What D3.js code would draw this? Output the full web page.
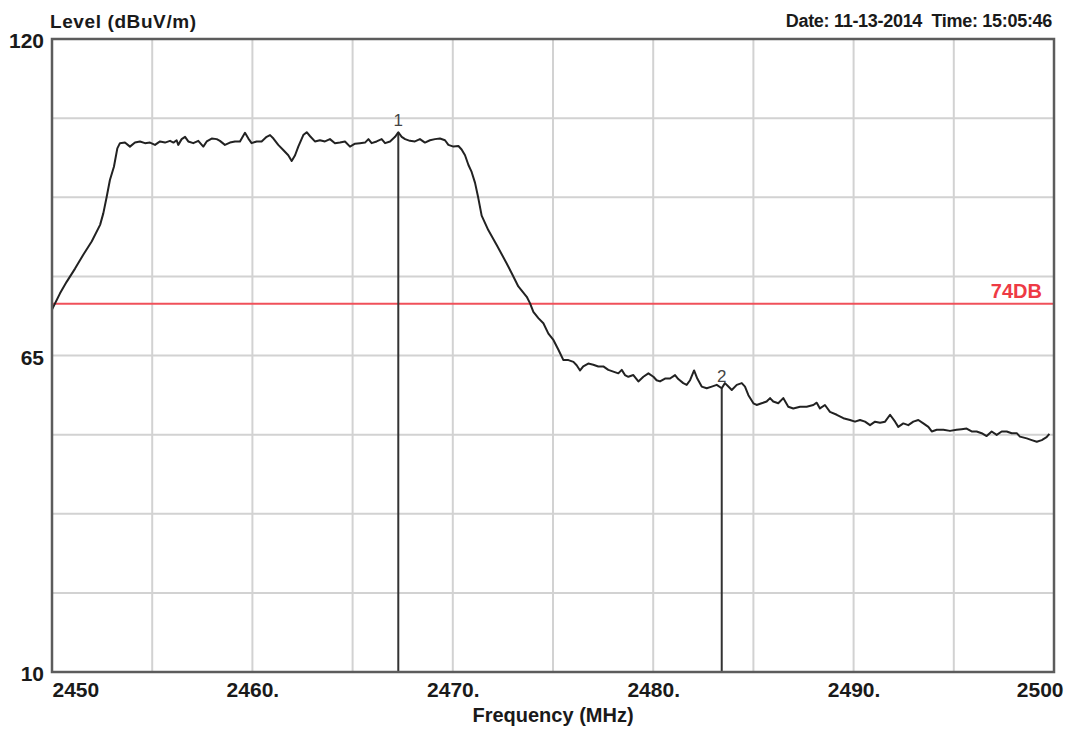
<!DOCTYPE html>
<html>
<head>
<meta charset="utf-8">
<script src="https://cdn.jsdelivr.net/npm/d3@7"></script>
<style>
  html, body { margin: 0; padding: 0; background: #fff; }
  svg { display: block; font-family: "Liberation Sans", Arial, sans-serif; }
</style>
</head>
<body>
<div id="chart"></div>
<script>
// frequency in MHz, level in dBuV/m
const trace = [
  [2450.00,73.0],[2450.40,75.8],[2450.73,77.8],[2451.15,80.1],[2451.56,82.5],[2451.98,84.8],
  [2452.40,87.7],[2452.56,89.7],[2452.73,92.6],[2452.89,95.5],[2453.09,97.8],[2453.26,101.0],
  [2453.39,101.9],[2453.64,102.0],[2453.89,101.3],[2454.14,102.0],[2454.39,102.2],[2454.64,101.9],
  [2454.89,102.0],[2455.14,101.6],[2455.39,102.2],[2455.64,102.0],[2455.89,102.3],[2456.06,102.0],
  [2456.22,102.4],[2456.30,101.6],[2456.47,102.6],[2456.64,103.0],[2456.80,102.2],[2457.05,101.9],
  [2457.30,102.3],[2457.55,101.3],[2457.72,102.2],[2457.97,102.7],[2458.22,102.6],[2458.38,102.3],
  [2458.63,101.6],[2458.88,102.0],[2459.13,102.2],[2459.38,102.2],[2459.63,103.7],[2459.80,102.7],
  [2459.96,101.9],[2460.21,102.2],[2460.46,102.2],[2460.71,103.0],[2460.88,103.3],[2461.05,102.7],
  [2461.29,101.6],[2461.54,100.7],[2461.79,99.8],[2461.96,98.8],[2462.13,99.8],[2462.29,101.3],
  [2462.54,103.3],[2462.71,103.8],[2462.88,103.1],[2463.12,102.2],[2463.37,102.4],[2463.62,102.2],
  [2463.87,102.6],[2464.12,101.9],[2464.37,102.0],[2464.62,102.2],[2464.87,101.3],[2465.12,101.8],
  [2465.37,101.9],[2465.62,102.0],[2465.79,102.6],[2465.95,101.9],[2466.20,102.2],[2466.45,102.6],
  [2466.62,101.9],[2466.87,102.2],[2467.12,103.0],[2467.28,103.8],[2467.45,103.0],[2467.62,102.6],
  [2467.86,102.3],[2468.11,102.2],[2468.36,102.6],[2468.61,102.0],[2468.86,102.4],[2469.11,102.6],
  [2469.36,102.7],[2469.61,102.4],[2469.78,101.6],[2470.03,101.3],[2470.28,101.4],[2470.44,100.8],
  [2470.61,99.8],[2470.78,98.1],[2470.94,96.9],[2471.11,95.0],[2471.27,92.4],[2471.44,89.3],
  [2471.77,86.8],[2472.19,84.2],[2472.69,81.0],[2472.94,79.3],[2473.27,77.0],[2473.69,75.2],
  [2473.85,74.1],[2474.02,72.6],[2474.27,71.5],[2474.52,70.6],[2474.77,68.8],[2475.02,67.7],
  [2475.27,66.0],[2475.52,64.2],[2475.77,64.2],[2476.02,63.9],[2476.18,63.3],[2476.35,62.4],
  [2476.51,63.1],[2476.76,63.6],[2477.01,63.4],[2477.26,63.1],[2477.51,63.1],[2477.76,62.5],
  [2478.01,62.2],[2478.26,61.9],[2478.43,62.5],[2478.59,61.6],[2478.76,61.3],[2479.01,61.6],
  [2479.26,60.5],[2479.51,61.3],[2479.76,61.9],[2480.01,61.3],[2480.17,60.7],[2480.34,60.5],
  [2480.59,61.0],[2480.84,61.0],[2481.09,61.6],[2481.25,60.9],[2481.50,60.2],[2481.67,59.9],
  [2481.84,60.7],[2482.04,62.4],[2482.20,61.0],[2482.42,59.6],[2482.67,59.3],[2482.92,59.6],
  [2483.17,59.9],[2483.42,59.3],[2483.58,60.2],[2483.75,59.6],[2483.92,59.0],[2484.17,59.9],
  [2484.42,60.2],[2484.58,59.6],[2484.75,58.1],[2485.00,56.7],[2485.16,56.4],[2485.41,56.7],
  [2485.66,57.0],[2485.83,57.6],[2485.99,57.0],[2486.24,56.7],[2486.49,57.6],[2486.74,56.1],
  [2486.99,55.8],[2487.33,56.1],[2487.66,56.1],[2487.99,56.4],[2488.16,56.8],[2488.32,55.8],
  [2488.57,56.4],[2488.82,55.2],[2489.16,54.7],[2489.49,54.1],[2489.82,53.8],[2490.07,53.5],
  [2490.32,53.8],[2490.57,53.5],[2490.82,52.9],[2491.07,53.5],[2491.32,53.3],[2491.57,53.5],
  [2491.82,54.7],[2492.07,53.5],[2492.23,52.6],[2492.48,53.2],[2492.73,52.9],[2492.98,53.5],
  [2493.23,53.8],[2493.48,53.2],[2493.73,52.6],[2493.90,51.8],[2494.15,52.1],[2494.48,52.1],
  [2494.81,51.9],[2495.14,52.1],[2495.39,52.2],[2495.64,52.3],[2495.89,51.8],[2496.14,51.8],
  [2496.39,51.5],[2496.64,51.0],[2496.89,51.8],[2497.14,51.2],[2497.39,51.8],[2497.64,51.8],
  [2497.89,51.5],[2498.14,51.5],[2498.30,50.9],[2498.64,50.6],[2498.89,50.3],[2499.14,50.0],
  [2499.39,50.3],[2499.63,50.8],[2499.77,51.4]
];

const markers = [
  { label: "1", freq: 2467.28, level: 103.8 },
  { label: "2", freq: 2483.42, level: 59.3 }
];

const limitLevel = 74;
const limitLabel = "74DB";

const xDomain = [2450, 2500];
const yDomain = [10, 120];
const xTickLabels = [2450, 2460, 2470, 2480, 2490, 2500];
const yTickLabels = [120, 65, 10];

const width = 1073;
const height = 731;
const margin = { top: 39, right: 19, bottom: 59, left: 52 };
const chartWidth = width - margin.left - margin.right;
const chartHeight = height - margin.top - margin.bottom;

const svg = d3.select("#chart")
  .append("svg")
  .attr("width", width)
  .attr("height", height);

svg.append("rect").attr("width", width).attr("height", height).attr("fill", "#fff");

const chart = svg.append("g")
  .attr("transform", `translate(${margin.left}, ${margin.top})`);

const xScale = d3.scaleLinear().domain(xDomain).range([0, chartWidth]);
const yScale = d3.scaleLinear().domain(yDomain).range([chartHeight, 0]);

// grid: every 5 MHz, 8 level divisions
const xGrid = d3.range(xDomain[0] + 5, xDomain[1], 5);
const yStep = (yDomain[1] - yDomain[0]) / 8;
const yGrid = d3.range(1, 8).map(i => yDomain[0] + i * yStep);

chart.append("g")
  .selectAll("line.vgrid")
  .data(xGrid)
  .enter()
  .append("line")
  .attr("x1", d => xScale(d))
  .attr("x2", d => xScale(d))
  .attr("y1", 0)
  .attr("y2", chartHeight)
  .attr("stroke", "#d2d2d2")
  .attr("stroke-width", 2);

chart.append("g")
  .selectAll("line.hgrid")
  .data(yGrid)
  .enter()
  .append("line")
  .attr("x1", 0)
  .attr("x2", chartWidth)
  .attr("y1", d => yScale(d))
  .attr("y2", d => yScale(d))
  .attr("stroke", "#d2d2d2")
  .attr("stroke-width", 2);

// limit line
chart.append("line")
  .attr("x1", 0)
  .attr("x2", chartWidth)
  .attr("y1", yScale(limitLevel))
  .attr("y2", yScale(limitLevel))
  .attr("stroke", "#f0505a")
  .attr("stroke-width", 2);

chart.append("text")
  .attr("x", xScale(2499.4))
  .attr("y", yScale(limitLevel) - 6)
  .attr("text-anchor", "end")
  .style("font-size", "20px")
  .style("font-weight", "bold")
  .style("fill", "#ee3a44")
  .text(limitLabel);

// marker lines
chart.selectAll(".marker-line")
  .data(markers)
  .enter()
  .append("line")
  .attr("class", "marker-line")
  .attr("x1", d => xScale(d.freq))
  .attr("x2", d => xScale(d.freq))
  .attr("y1", d => yScale(d.level))
  .attr("y2", yScale(yDomain[0]))
  .attr("stroke", "#333")
  .attr("stroke-width", 2);

chart.selectAll(".marker-label")
  .data(markers)
  .enter()
  .append("text")
  .attr("class", "marker-label")
  .attr("x", d => xScale(d.freq))
  .attr("y", d => yScale(d.level) - 6)
  .attr("text-anchor", "middle")
  .style("font-size", "17px")
  .style("fill", "#444")
  .text(d => d.label);

// trace
const line = d3.line()
  .x(d => xScale(d[0]))
  .y(d => yScale(d[1]));

chart.append("path")
  .datum(trace)
  .attr("fill", "none")
  .attr("stroke", "#222")
  .attr("stroke-width", 2)
  .attr("stroke-linejoin", "round")
  .attr("d", line);

// frame
chart.append("rect")
  .attr("x", 0)
  .attr("y", 0)
  .attr("width", chartWidth)
  .attr("height", chartHeight)
  .attr("fill", "none")
  .attr("stroke", "#5c5c5c")
  .attr("stroke-width", 2.5);

// axes
const xAxis = d3.axisBottom(xScale)
  .tickValues(xTickLabels)
  .tickSize(0)
  .tickPadding(10)
  .tickFormat((d, i) => (i === 0 || i === xTickLabels.length - 1) ? String(d) : d + ".");

const gx = chart.append("g")
  .attr("transform", `translate(0, ${chartHeight})`)
  .call(xAxis);
gx.select(".domain").remove();
gx.selectAll("text")
  .attr("dy", "0.71em")
  .style("font-size", "21px")
  .style("font-weight", "bold")
  .style("font-family", "'Liberation Sans', Arial, sans-serif")
  .style("fill", "#1a1a1a")
  .attr("text-anchor", (d, i) => i === 0 ? "start" : (i === xTickLabels.length - 1 ? "end" : "middle"))
  .attr("dx", (d, i) => i === xTickLabels.length - 1 ? 9 : 0);

const yAxis = d3.axisLeft(yScale)
  .tickValues(yTickLabels)
  .tickSize(0)
  .tickPadding(8);

const gy = chart.append("g").call(yAxis);
gy.select(".domain").remove();
gy.selectAll("text")
  .attr("dy", "0.42em")
  .style("font-size", "21px")
  .style("font-weight", "bold")
  .style("font-family", "'Liberation Sans', Arial, sans-serif")
  .style("fill", "#1a1a1a");

// titles
svg.append("text")
  .attr("x", margin.left - 2)
  .attr("y", 28)
  .style("font-size", "19px")
  .style("font-weight", "bold")
  .style("letter-spacing", "0.6px")
  .style("fill", "#1a1a1a")
  .text("Level (dBuV/m)");

svg.append("text")
  .attr("x", margin.left + chartWidth - 2)
  .attr("y", 27)
  .attr("text-anchor", "end")
  .style("font-size", "18px")
  .style("font-weight", "bold")
  .style("letter-spacing", "-0.3px")
  .style("fill", "#1a1a1a")
  .text("Date: 11-13-2014  Time: 15:05:46")
  .attr("xml:space", "preserve")
  .style("white-space", "pre");

svg.append("text")
  .attr("x", margin.left + chartWidth / 2)
  .attr("y", 722)
  .attr("text-anchor", "middle")
  .style("font-size", "20px")
  .style("font-weight", "bold")
  .style("fill", "#1a1a1a")
  .text("Frequency (MHz)");
</script>
</body>
</html>
